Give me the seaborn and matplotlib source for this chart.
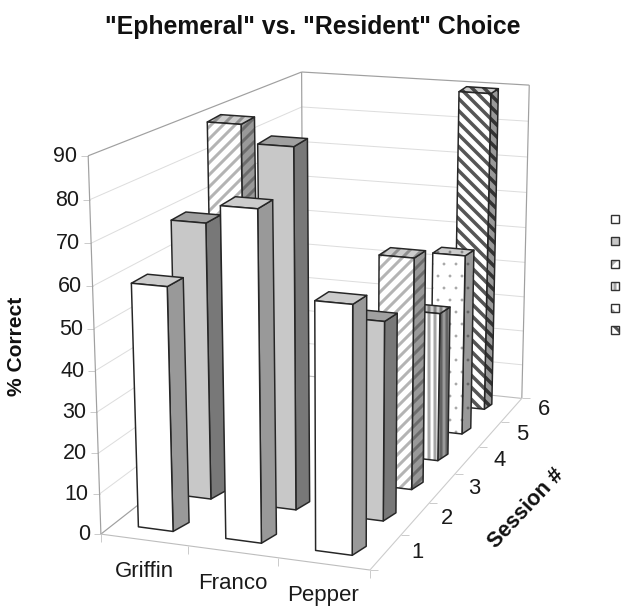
import numpy as np
import matplotlib
matplotlib.use("Agg")
import matplotlib.pyplot as plt
from matplotlib.patches import Polygon, Rectangle
import seaborn as sns

# ---- data -------------------------------------------------------------
title = '"Ephemeral" vs. "Resident" Choice'
categories = ["Griffin", "Franco", "Pepper"]
sessions = [1, 2, 3, 4, 5, 6]
griffin = [60, 70, 90]
franco = [80, 90]
pepper = [60, 50, 60, 40, 50, 90]
value_ticks = [0, 10, 20, 30, 40, 50, 60, 70, 80, 90]
series_values = [griffin, franco, pepper]

# ---- style per session -------------------------------------------------
face_grey = [255, 200, 255, 255, 255, 255]
stripe_grey = [None, None, 180, 165, 165, 85]
hatches = [None, None, "//", "||", ".", "\\\\"]
hatch_lw = [0, 0, 3.0, 3.0, 0.3, 3.5]

sns.set_theme(style="white")
plt.rcParams["font.family"] = ["Liberation Sans", "DejaVu Sans"]
plt.rcParams["hatch.linewidth"] = 3.0

fig = plt.figure(figsize=(621 / 72, 607 / 72), dpi=72, facecolor="white")
ax = fig.add_axes([0, 0, 1, 1])
ax.set_xlim(0, 621)
ax.set_ylim(607, 0)
ax.axis("off")


def fit_camera(pairs):
    rows = []
    for (x, y, z), (u, v) in pairs:
        z = z / 90
        u, v = u / 600, v / 600
        rows.append([x, y, z, 1, 0, 0, 0, 0, -u * x, -u * y, -u * z, -u])
        rows.append([0, 0, 0, 0, x, y, z, 1, -v * x, -v * y, -v * z, -v])
    m = np.linalg.svd(np.array(rows, float))[2][-1].reshape(3, 4)

    def project(x, y, z):
        p = m @ np.array([x, y, z / 90, 1.0])
        return np.array([600 * p[0] / p[2], 600 * p[1] / p[2]])

    return project


# camera for the walls and floor
frame = fit_camera([
    ((0, 0, 0), (101, 532)), ((3, 0, 0), (370, 572)),
    ((3, 6, 0), (522, 396)), ((0, 6, 0), (303, 378)),
    ((0, 0, 90), (88, 156)), ((0, 6, 90), (302, 71)),
    ((3, 6, 90), (529, 86)),
])

# camera for the bar fronts (x = category + side, y = session index)
W = 0.4
bars = fit_camera([
    ((0, 0, 0), (137, 527)), ((W, 0, 0), (172, 531)),
    ((0, 0, 60), (132, 284)), ((W, 0, 60), (168, 288)),
    ((1, 0, 0), (226, 540)), ((1 + W, 0, 0), (261, 545)),
    ((1, 0, 80), (220, 206)), ((1 + W, 0, 80), (257, 208)),
    ((2, 0, 0), (314, 549)), ((2 + W, 0, 0), (354, 555)),
    ((2, 0, 60), (314, 301)), ((2 + W, 0, 60), (353, 306)),
    ((2 + W, 5, 0), (484, 410)), ((2 + W, 5, 90), (491, 93)),
    ((2, 5, 90), (458, 92)),
    ((2, 2, 60), (379, 255)), ((2 + W, 2, 60), (414, 258)),
    ((2 + W, 2, 0), (412, 490)),
    ((0, 2, 90), (208, 122)), ((W, 2, 90), (242, 124)),
    ((1, 1, 90), (257, 143)), ((1 + W, 1, 90), (294, 147)),
    ((1 + W, 1, 0), (298, 505)),
    ((2 + W, 3, 0), (438, 461)), ((2 + W, 3, 40), (440, 313)),
    ((2, 4, 50), (433, 253)), ((2 + W, 4, 50), (465, 256)),
    ((2 + W, 4, 0), (462, 435)),
])


def line(a, b, color, lw, z=1):
    ax.plot([a[0], b[0]], [a[1], b[1]], color=color, lw=lw, zorder=z,
            solid_capstyle="butt")


# ---- walls, floor, grid ------------------------------------------------
GRID = "#dddddd"
WALL = "#a0a0a0"
FLOOR = "#bdbdbd"
TICK = "#cccccc"
for v in value_ticks:
    if 0 < v < 90:
        line(frame(0, 0, v), frame(0, 6, v), GRID, 1)
        line(frame(0, 6, v), frame(3, 6, v), GRID, 1)
    q = frame(0, 0, v)
    line(q, q + np.array([-7, 0]), TICK, 1, 2)
    ax.text(*(q + np.array([-11, 0.5])), str(v), ha="right", va="center",
            fontsize=21.5, color="#1a1a1a")
for a, b in [((0, 0, 0), (0, 0, 90)), ((0, 0, 90), (0, 6, 90)),
             ((0, 6, 90), (3, 6, 90)), ((3, 6, 90), (3, 6, 0)),
             ((0, 6, 90), (0, 6, 0)), ((0, 0, 0), (0, 6, 0))]:
    line(frame(*a), frame(*b), WALL, 1.2, 2)
line(frame(0, 6, 0), frame(3, 6, 0), FLOOR, 1.1, 2)
line(frame(0, 0, 0), frame(3, 0, 0), FLOOR, 1.1, 2)
line(frame(3, 0, 0), frame(3, 6, 0), "#cccccc", 1.1, 2)
for c in range(4):
    p = frame(c, 0, 0)
    line(p, p + np.array([0, 8]), TICK, 1, 2)
for s in range(7):
    p = frame(3, s, 0)
    line(p, p + np.array([8, 0]), TICK, 1, 2)


# ---- bars --------------------------------------------------------------
def shade(g, k):
    v = g * k / 255
    return (v, v, v)


def face(pts, g, stripe, hatch, lw, k, z):
    fc = shade(g, k)
    if hatch:
        patch = Polygon(pts, closed=True, facecolor=fc,
                        edgecolor=shade(stripe, k), hatch=hatch, lw=0, zorder=z)
        if hasattr(patch, "set_hatch_linewidth"):
            patch.set_hatch_linewidth(lw)
        ax.add_patch(patch)
    else:
        ax.add_patch(Polygon(pts, closed=True, facecolor=fc, lw=0, zorder=z))
    ax.add_patch(Polygon(pts, closed=True, fill=False, edgecolor="#262626",
                         lw=1.5, joinstyle="round", zorder=z + 0.01))


order = sorted(((i, j) for i, vals in enumerate(series_values)
                for j in range(len(vals))), key=lambda t: (-t[1], t[0]))
for n, (i, j) in enumerate(order):
    val = series_values[i][j]
    depth = np.array([16 - i - 1.3 * j, -9 + 0.8 * j])
    fl0, fr0 = bars(i, j, 0), bars(i + W, j, 0)
    fl1, fr1 = bars(i, j, val), bars(i + W, j, val)
    z = 5 + n
    g, st, h, hl = face_grey[j], stripe_grey[j], hatches[j], hatch_lw[j]
    face([fr0, fr0 + depth, fr1 + depth, fr1], g, st, h, hl, 0.6, z)
    face([fl1, fr1, fr1 + depth, fl1 + depth], g, st, h, hl, 0.8, z + 0.1)
    face([fl0, fr0, fr1, fl1], g, st, h, hl, 1.0, z + 0.2)

# ---- legend keys (the source legend shows keys only) -------------------
for j, y in enumerate([215, 237, 260, 282, 304, 326]):
    ax.add_patch(Rectangle((611, y), 8, 8, facecolor=shade(face_grey[j], 1),
                           edgecolor=shade(stripe_grey[j], 1) if hatches[j] else "none",
                           hatch=hatches[j], lw=0, zorder=39))
    ax.add_patch(Rectangle((611, y), 8, 8, fill=False, edgecolor="#333333",
                           lw=1.4, zorder=40))

# ---- text --------------------------------------------------------------
ax.text(313, 27, title, ha="center", va="center", fontsize=24.7,
        fontweight="bold", color="#111111")
ax.text(17, 346, "% Correct", rotation=90, ha="center", va="center",
        fontsize=21, fontweight="bold", color="#111111")
for c, name in enumerate(categories):
    ax.text(*(frame(c + 0.5, 0, 0) + np.array([0, 32])), name, ha="center",
            va="center", fontsize=22.3, color="#1a1a1a")
for j, s in enumerate(sessions):
    ax.text(*(frame(3, j + 0.5, 0) + np.array([32, 0])), str(s), ha="center",
            va="center", fontsize=22, color="#1a1a1a")
ax.text(526, 508, "Session #", rotation=47, ha="center", va="center",
        rotation_mode="anchor", fontsize=21.5, fontweight="bold", color="#111111")

fig.savefig("out.png", dpi=72, facecolor="white")
